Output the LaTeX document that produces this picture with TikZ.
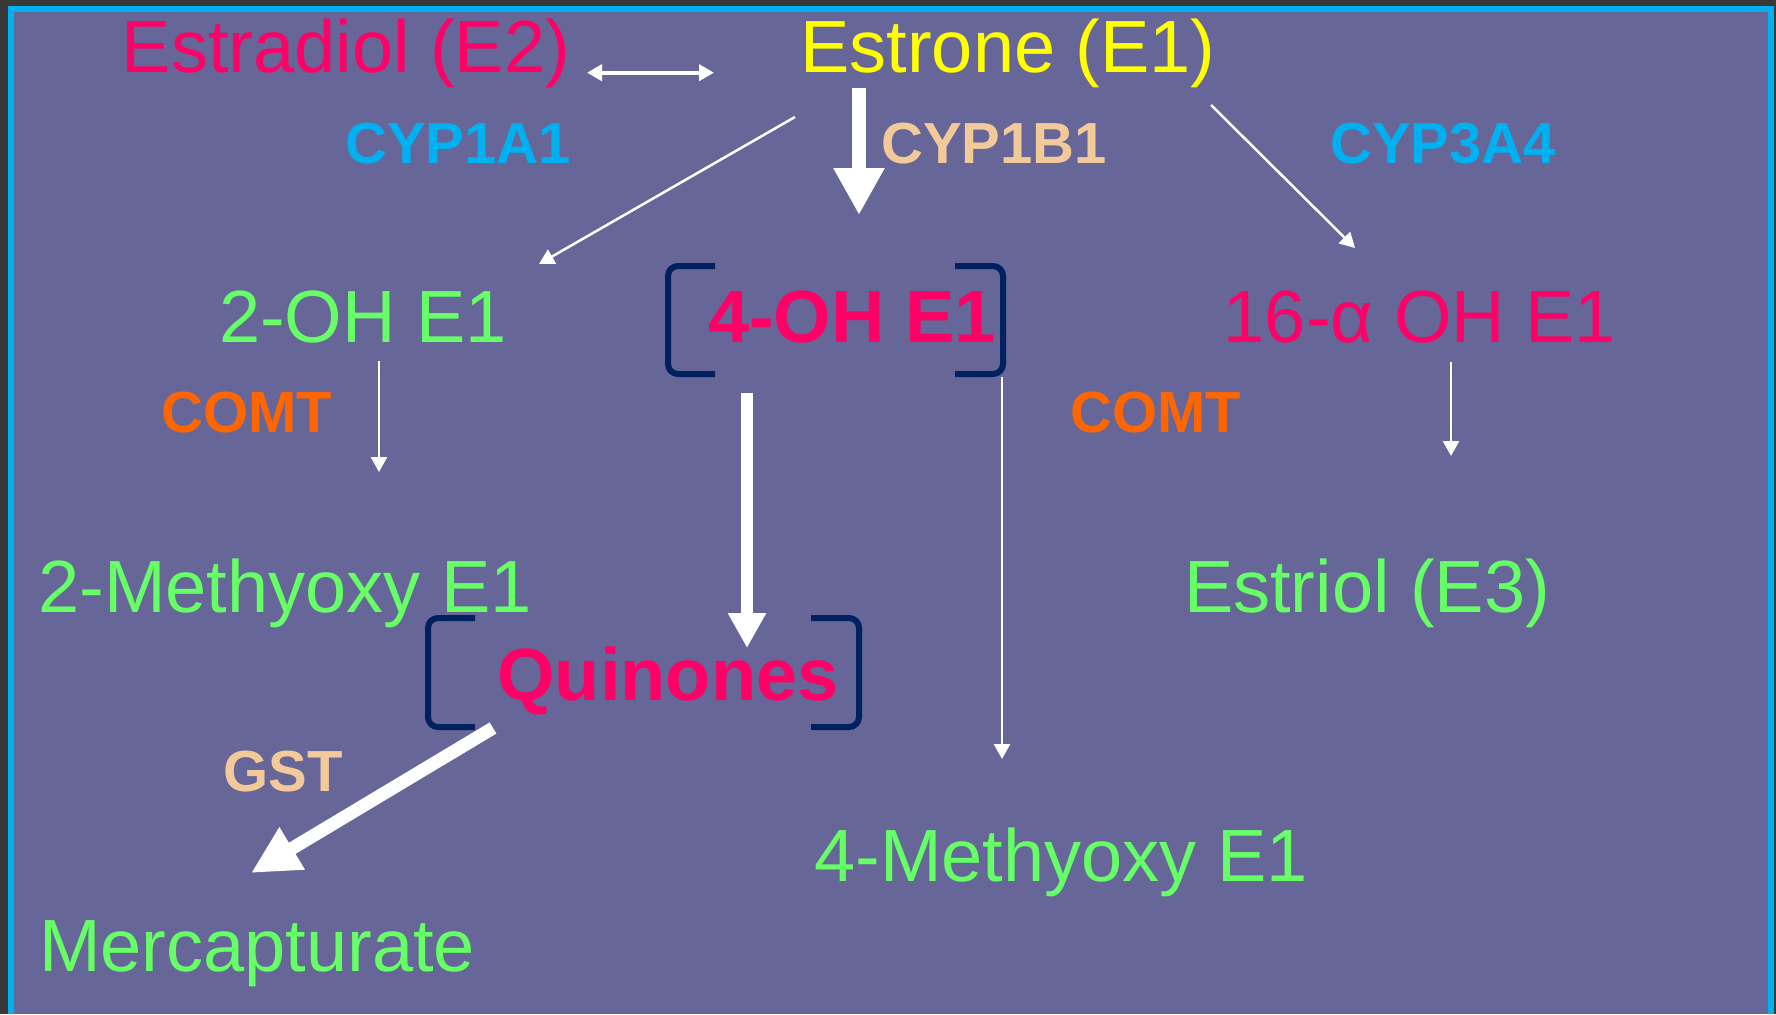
\documentclass[tikz,border=0pt]{standalone}
\usepackage{fontspec}
\setmainfont{Liberation Sans}
\usetikzlibrary{arrows.meta}
\definecolor{bgdark}{RGB}{56,56,56}
\definecolor{slate}{RGB}{102,102,153}
\definecolor{framecyan}{RGB}{0,176,240}
\definecolor{pinkc}{RGB}{255,0,102}
\definecolor{yellowc}{RGB}{255,255,0}
\definecolor{greenc}{RGB}{102,255,102}
\definecolor{orangec}{RGB}{255,102,0}
\definecolor{tanc}{RGB}{242,202,154}
\definecolor{navyc}{RGB}{0,32,96}
\begin{document}
\begin{tikzpicture}[x=1pt,y=-1pt,
  big/.style={font=\fontsize{74}{80}\selectfont, anchor=base, inner sep=0pt},
  bigbold/.style={font=\fontsize{74}{80}\selectfont\bfseries, anchor=base, inner sep=0pt},
  enz/.style={font=\fontsize{58}{64}\selectfont\bfseries, anchor=base, inner sep=0pt},
  thinarrow/.style={draw=white, line width=2.5pt, -{Triangle[length=15pt,width=16pt]}},
  fat/.style n args={3}{draw=white, line width=#1, -{Triangle[length=#2,width=#3]}},
  brk/.style={draw=navyc, line width=6pt, rounded corners=10pt}
]
\useasboundingbox (0,0) rectangle (1776,1014);
\fill[bgdark] (0,0) rectangle (1776,1014);
\fill[framecyan] (8,6) rectangle (1774,1014);
\fill[slate] (14,12) rectangle (1768,1014);

% texts
\node[big, text=pinkc] (e2) at (346,73) {Estradiol (E2)};
\node[big, text=yellowc] (e1) at (1008,73) {Estrone (E1)};
\node[enz, text=framecyan] (cyp1a1) at (458,163) {CYP1A1};
\node[enz, text=tanc] (cyp1b1) at (994,163) {CYP1B1};
\node[enz, text=framecyan] (cyp3a4) at (1443,163) {CYP3A4};
\node[big, text=greenc] (oh2) at (363,342) {2-OH E1};
\node[bigbold, text=pinkc] (oh4) at (852,342) {4-OH E1};
\node[big, text=pinkc] (oh16) at (1420,342) {16-α OH E1};
\node[enz, text=orangec] (comtl) at (247,432) {COMT};
\node[enz, text=orangec] (comtr) at (1156,432) {COMT};
\node[big, text=greenc] (meo2) at (285,612) {2-Methyoxy E1};
\node[big, text=greenc] (e3) at (1367,612) {Estriol (E3)};
\node[bigbold, text=pinkc] (quin) at (668,700) {Quinones};
\node[enz, text=tanc] (gst) at (283,791) {GST};
\node[big, text=greenc] (meo4) at (1061,881) {4-Methyoxy E1};
\node[big, text=greenc] (merc) at (257,971) {Mercapturate};

% brackets
\draw[brk] (715,266) -- (668,266) -- (668,374) -- (715,374);
\draw[brk] (955,266) -- (1003,266) -- (1003,374) -- (955,374);
\draw[brk] (475,618) -- (428,618) -- (428,727) -- (475,727);
\draw[brk] (811,618) -- (859,618) -- (859,727) -- (811,727);

% connector end points
\coordinate (dA) at (587,72.7);
\coordinate (dB) at (714,72.7);
\coordinate (e1s) at (859,88);
\coordinate (e1t) at (859,215);
\coordinate (aS) at (795,117);
\coordinate (aT) at (539,264);
\coordinate (cS) at (1211,105);
\coordinate (cT) at (1355,248);
\coordinate (oh2s) at (379,361);
\coordinate (oh2t) at (379,472);
\coordinate (oh16s) at (1451,362);
\coordinate (oh16t) at (1451,456);
\coordinate (oh4s) at (747,393);
\coordinate (oh4t) at (747,648);
\coordinate (lS) at (1002,377);
\coordinate (lT) at (1002,759);
\coordinate (qS) at (493,728);
\coordinate (qT) at (251,873);

% connectors
\draw[draw=white, line width=4pt, {Triangle[length=15pt,width=16pt]}-{Triangle[length=15pt,width=16pt]}] (dA) -- (dB);
\draw[fat={14pt}{47pt}{48pt}] (e1s) -- (e1t);
\draw[thinarrow] (aS) -- (aT);
\draw[thinarrow] (cS) -- (cT);
\draw[thinarrow] (oh2s) -- (oh2t);
\draw[thinarrow] (oh16s) -- (oh16t);
\draw[fat={12pt}{35pt}{36pt}] (oh4s) -- (oh4t);
\draw[thinarrow] (lS) -- (lT);
\draw[fat={13pt}{48pt}{46pt}] (qS) -- (qT);
\end{tikzpicture}
\end{document}
